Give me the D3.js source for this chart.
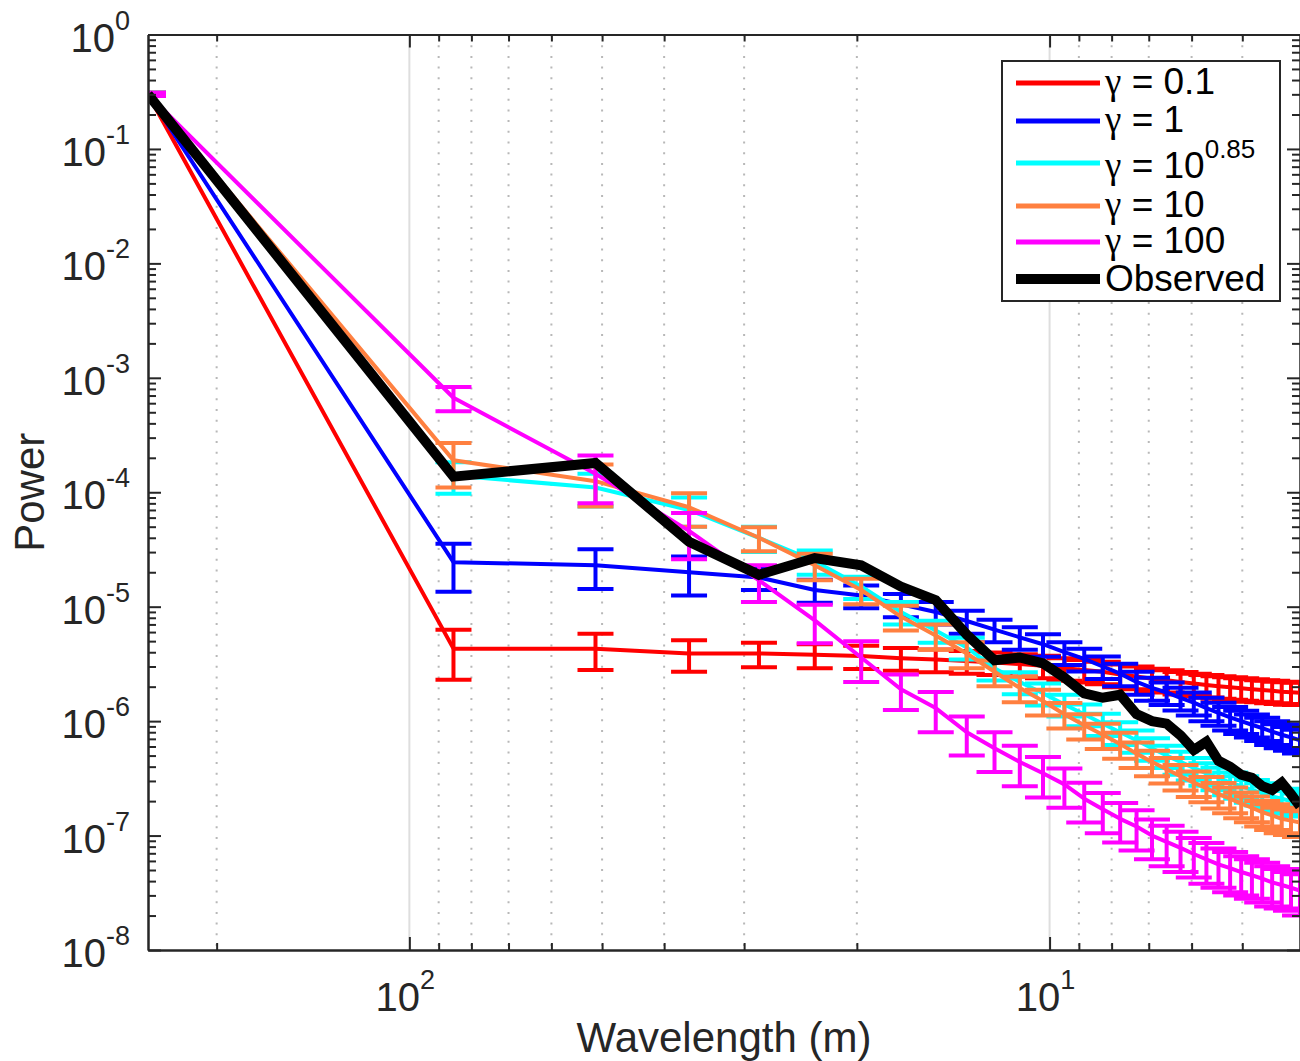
<!DOCTYPE html>
<html>
<head>
<meta charset="utf-8">
<script src="https://cdn.jsdelivr.net/npm/d3@7/dist/d3.min.js"></script>
<style>
  body { margin: 0; background: #fff; }
  svg { display: block; font-family: 'Liberation Sans', Arial, Helvetica, sans-serif; }
</style>
</head>
<body>
<svg id="chart" width="1300" height="1061"></svg>
<script>
// wavelengths (m) of the odd harmonics, left to right
const wavelength = [256, 85.33, 51.2, 36.57, 28.44, 23.27, 19.69, 17.07, 15.06, 13.47,
  12.19, 11.13, 10.24, 9.481, 8.828, 8.258, 7.758, 7.314, 6.919, 6.564, 6.244, 5.953,
  5.689, 5.447, 5.224, 5.02, 4.83, 4.655, 4.491, 4.339, 4.197, 4.063];

// gamma = 0.1
const powerG01 = [0.3, 4.3e-6, 4.3e-6, 3.9e-6, 3.9e-6, 3.8e-6, 3.7e-6, 3.55e-6, 3.45e-6,
  3.35e-6, 3.25e-6, 3.15e-6, 3.05e-6, 2.9e-6, 2.8e-6, 2.7e-6, 2.55e-6, 2.45e-6, 2.35e-6,
  2.28e-6, 2.2e-6, 2.13e-6, 2.07e-6, 2.02e-6, 1.98e-6, 1.94e-6, 1.9e-6, 1.87e-6, 1.84e-6,
  1.81e-6, 1.79e-6, 1.77e-6];
const errG01 = [0.01, 2.0e-6, 1.5e-6, 1.2e-6, 0.95e-6, 0.9e-6, 0.85e-6, 0.8e-6, 0.78e-6,
  0.75e-6, 0.72e-6, 0.7e-6, 0.68e-6, 0.65e-6, 0.62e-6, 0.6e-6, 0.57e-6, 0.55e-6, 0.52e-6,
  0.5e-6, 0.49e-6, 0.47e-6, 0.46e-6, 0.45e-6, 0.44e-6, 0.43e-6, 0.42e-6, 0.41e-6, 0.41e-6,
  0.4e-6, 0.4e-6, 0.39e-6];

// gamma = 1
const powerG1 = [0.3, 2.45e-5, 2.3e-5, 2.0e-5, 1.8e-5, 1.4e-5, 1.25e-5, 1.05e-5, 9.0e-6,
  7.5e-6, 6.3e-6, 5.4e-6, 4.7e-6, 4.0e-6, 3.5e-6, 3.0e-6, 2.6e-6, 2.2e-6, 1.95e-6, 1.78e-6,
  1.6e-6, 1.45e-6, 1.3e-6, 1.18e-6, 1.08e-6, 1.0e-6, 0.93e-6, 0.87e-6, 0.81e-6, 0.76e-6,
  0.72e-6, 0.68e-6];
const errG1 = [0.01, 1.1e-5, 0.87e-5, 0.75e-5, 0.4e-5, 0.32e-5, 0.28e-5, 0.24e-5, 0.2e-5,
  0.17e-5, 0.14e-5, 1.2e-6, 1.05e-6, 0.9e-6, 0.78e-6, 0.67e-6, 0.58e-6, 0.5e-6, 0.44e-6,
  0.4e-6, 0.36e-6, 0.33e-6, 0.3e-6, 0.27e-6, 0.25e-6, 0.23e-6, 0.21e-6, 0.2e-6, 0.19e-6,
  0.18e-6, 0.17e-6, 0.16e-6];

// gamma = 10^0.85
const powerG7 = [0.3, 1.4e-4, 1.1e-4, 7.0e-5, 4.0e-5, 2.5e-5, 1.5e-5, 9.0e-6, 6.2e-6,
  4.4e-6, 2.9e-6, 2.2e-6, 1.75e-6, 1.4e-6, 1.15e-6, 0.95e-6, 0.8e-6, 0.68e-6, 0.58e-6,
  0.5e-6, 0.44e-6, 0.39e-6, 0.35e-6, 0.32e-6, 0.29e-6, 0.27e-6, 0.25e-6, 0.235e-6, 0.22e-6,
  0.21e-6, 0.2e-6, 0.19e-6];
const errG7 = [0.01, 4.3e-5, 3.5e-5, 2.0e-5, 1.0e-5, 0.6e-5, 3.3e-6, 2.0e-6, 1.35e-6,
  0.95e-6, 0.63e-6, 0.48e-6, 0.38e-6, 0.3e-6, 0.25e-6, 0.21e-6, 0.18e-6, 0.15e-6, 0.13e-6,
  0.11e-6, 0.1e-6, 0.087e-6, 0.078e-6, 0.071e-6, 0.065e-6, 0.06e-6, 0.056e-6, 0.052e-6,
  0.049e-6, 0.047e-6, 0.045e-6, 0.043e-6];

// gamma = 10
const powerG10 = [0.3, 1.9e-4, 1.25e-4, 7.4e-5, 4.0e-5, 2.3e-5, 1.4e-5, 8.2e-6, 5.6e-6,
  3.9e-6, 2.7e-6, 1.95e-6, 1.5e-6, 1.15e-6, 0.92e-6, 0.76e-6, 0.63e-6, 0.52e-6, 0.44e-6,
  0.38e-6, 0.33e-6, 0.29e-6, 0.26e-6, 0.23e-6, 0.21e-6, 0.19e-6, 0.175e-6, 0.16e-6, 0.15e-6,
  0.14e-6, 0.135e-6, 0.13e-6];
const errG10 = [0.01, 8e-5, 5e-5, 2.4e-5, 0.95e-5, 0.6e-5, 3.5e-6, 2.0e-6, 1.4e-6, 1.0e-6,
  0.68e-6, 0.49e-6, 0.38e-6, 0.29e-6, 0.23e-6, 0.19e-6, 0.16e-6, 0.13e-6, 0.11e-6, 0.095e-6,
  0.083e-6, 0.073e-6, 0.065e-6, 0.058e-6, 0.053e-6, 0.048e-6, 0.044e-6, 0.04e-6, 0.038e-6,
  0.035e-6, 0.034e-6, 0.033e-6];

// gamma = 100
const powerG100 = [0.3, 6.7e-4, 1.45e-4, 4.6e-5, 1.7e-5, 7.6e-6, 3.6e-6, 1.9e-6, 1.3e-6,
  8.0e-7, 5.8e-7, 4.4e-7, 3.5e-7, 2.8e-7, 2.1e-7, 1.7e-7, 1.4e-7, 1.2e-7, 1.0e-7, 8.8e-8,
  7.8e-8, 6.9e-8, 6.2e-8, 5.6e-8, 5.2e-8, 4.8e-8, 4.5e-8, 4.2e-8, 3.9e-8, 3.7e-8, 3.5e-8,
  3.3e-8];
const errG100 = [0.01, 1.6e-4, 0.65e-4, 2.0e-5, 0.6e-5, 2.8e-6, 1.4e-6, 0.65e-6, 0.5e-6,
  0.3e-6, 0.22e-6, 0.17e-6, 0.135e-6, 0.105e-6, 0.08e-6, 0.065e-6, 0.053e-6, 0.046e-6,
  0.038e-6, 0.034e-6, 0.03e-6, 0.026e-6, 0.024e-6, 0.021e-6, 0.02e-6, 0.018e-6, 0.017e-6,
  0.016e-6, 0.015e-6, 0.014e-6, 0.013e-6, 0.013e-6];

// observed spectrum
const powerObserved = [0.3, 1.37e-4, 1.8e-4, 3.7e-5, 1.9e-5, 2.66e-5, 2.3e-5, 1.5e-5,
  1.14e-5, 5.7e-6, 3.4e-6, 3.6e-6, 3.2e-6, 2.4e-6, 1.75e-6, 1.6e-6, 1.7e-6, 1.15e-6, 1.0e-6,
  9.5e-7, 7.5e-7, 5.6e-7, 6.6e-7, 4.5e-7, 4.0e-7, 3.4e-7, 3.2e-7, 2.7e-7, 2.5e-7, 2.9e-7,
  2.3e-7, 1.8e-7];

const gammaLabels = ['0.1', '1', '10^0.85', '10', '100'];
const seriesColors = ['#ff0000', '#0000ff', '#00ffff', '#ff8040', '#ff00ff'];
const yTickExp = [0, -1, -2, -3, -4, -5, -6, -7, -8];
const xTickExp = [2, 1];

const series = [
  { label: gammaLabels[0], color: seriesColors[0], values: powerG01, err: errG01 },
  { label: gammaLabels[1], color: seriesColors[1], values: powerG1, err: errG1 },
  { label: gammaLabels[2], color: seriesColors[2], values: powerG7, err: errG7 },
  { label: gammaLabels[3], color: seriesColors[3], values: powerG10, err: errG10 },
  { label: gammaLabels[4], color: seriesColors[4], values: powerG100, err: errG100 },
];

// layout
const plotLeft = 148, plotRight = 1300, plotTop = 34.5, plotBottom = 950;
const axisColor = '#262626';

const svg = d3.select('#chart');

const x = d3.scaleLog()
  .domain([wavelength[0], wavelength[wavelength.length - 1]])
  .range([plotLeft, plotRight]);
const y = d3.scaleLog().domain([1e-8, 1]).range([plotBottom, plotTop]);

const isMajor = (v) => Math.abs(Math.log10(v) - Math.round(Math.log10(v))) < 1e-9;
const xTicks = x.ticks();
const xMajor = xTicks.filter(isMajor);
const xMinor = xTicks.filter((v) => !isMajor(v));
const yTicks = y.ticks();
const yMajor = yTicks.filter(isMajor);
const yMinor = yTicks.filter((v) => !isMajor(v));

svg.append('defs').append('clipPath').attr('id', 'plot-clip')
  .append('rect')
  .attr('x', plotLeft).attr('y', plotTop)
  .attr('width', plotRight - plotLeft).attr('height', plotBottom - plotTop);

// vertical grid only
const grid = svg.append('g');
grid.selectAll('line.major').data(xMajor).join('line')
  .attr('class', 'major')
  .attr('x1', (d) => x(d)).attr('x2', (d) => x(d))
  .attr('y1', plotTop).attr('y2', plotBottom)
  .attr('stroke', '#dedede').attr('stroke-width', 2);
grid.selectAll('line.minor').data(xMinor).join('line')
  .attr('class', 'minor')
  .attr('x1', (d) => x(d)).attr('x2', (d) => x(d))
  .attr('y1', plotTop).attr('y2', plotBottom)
  .attr('stroke', '#b8b8b8').attr('stroke-width', 2)
  .attr('stroke-dasharray', '2,8.7');

// data
const plot = svg.append('g').attr('clip-path', 'url(#plot-clip)');
const line = d3.line()
  .x((d, i) => x(wavelength[i]))
  .y((d) => y(d));

const capHalf = 18;

series.forEach(function (s) {
  const g = plot.append('g')
    .attr('stroke', s.color)
    .attr('stroke-width', 4)
    .attr('fill', 'none');

  g.append('path').datum(s.values).attr('d', line).attr('stroke-linejoin', 'round');

  const bars = g.selectAll('g.bar')
    .data(s.values.map((v, i) => ({ w: wavelength[i], hi: v + s.err[i], lo: Math.max(v - s.err[i], 1e-9) })))
    .join('g').attr('class', 'bar');
  bars.append('line')
    .attr('x1', (d) => x(d.w)).attr('x2', (d) => x(d.w))
    .attr('y1', (d) => y(d.hi)).attr('y2', (d) => y(d.lo));
  bars.append('line')
    .attr('x1', (d) => x(d.w) - capHalf).attr('x2', (d) => x(d.w) + capHalf)
    .attr('y1', (d) => y(d.hi)).attr('y2', (d) => y(d.hi));
  bars.append('line')
    .attr('x1', (d) => x(d.w) - capHalf).attr('x2', (d) => x(d.w) + capHalf)
    .attr('y1', (d) => y(d.lo)).attr('y2', (d) => y(d.lo));
});

plot.append('path').datum(powerObserved)
  .attr('d', line)
  .attr('fill', 'none')
  .attr('stroke', '#000')
  .attr('stroke-width', 10)
  .attr('stroke-linejoin', 'miter');

// axes: ticks point inwards on all four sides
function drawAxis(gen, transform, values, size) {
  const g = svg.append('g')
    .attr('transform', transform)
    .call(gen.tickValues(values).tickSize(-size).tickSizeOuter(0).tickFormat(''));
  g.selectAll('line').attr('stroke', axisColor).attr('stroke-width', 2);
  g.select('.domain').attr('stroke', axisColor).attr('stroke-width', 2);
  return g;
}

drawAxis(d3.axisBottom(x), `translate(0,${plotBottom})`, xMajor, 13);
drawAxis(d3.axisBottom(x), `translate(0,${plotBottom})`, xMinor, 7);
drawAxis(d3.axisTop(x), `translate(0,${plotTop})`, xMajor, 13);
drawAxis(d3.axisTop(x), `translate(0,${plotTop})`, xMinor, 7);
drawAxis(d3.axisLeft(y), `translate(${plotLeft},0)`, yMajor, 13);
drawAxis(d3.axisLeft(y), `translate(${plotLeft},0)`, yMinor, 8);
drawAxis(d3.axisRight(y), `translate(${plotRight},0)`, yMajor, 13);
drawAxis(d3.axisRight(y), `translate(${plotRight},0)`, yMinor, 8);

// tick labels as 10^n
function powerLabel(sel, exp) {
  sel.append('tspan').text('10');
  sel.append('tspan').attr('dy', -22).attr('font-size', 27).text(exp);
}

svg.append('g').selectAll('text').data(yTickExp).join('text')
  .attr('x', plotLeft - 18)
  .attr('y', (d) => y(Math.pow(10, d)) + 17)
  .attr('text-anchor', 'end')
  .attr('font-size', 40)
  .attr('fill', axisColor)
  .each(function (d) { powerLabel(d3.select(this), d); });

svg.append('g').selectAll('text').data(xTickExp).join('text')
  .attr('x', (d) => x(Math.pow(10, d)) - 4)
  .attr('y', 1011)
  .attr('text-anchor', 'middle')
  .attr('font-size', 40)
  .attr('fill', axisColor)
  .each(function (d) { powerLabel(d3.select(this), d); });

svg.append('text')
  .attr('x', (plotLeft + plotRight) / 2).attr('y', 1052)
  .attr('text-anchor', 'middle')
  .attr('font-size', 42)
  .attr('fill', axisColor)
  .text('Wavelength (m)');

svg.append('text')
  .attr('transform', `translate(44,${(plotTop + plotBottom) / 2}) rotate(-90)`)
  .attr('text-anchor', 'middle')
  .attr('font-size', 42)
  .attr('fill', axisColor)
  .text('Power');

// legend
const legend = svg.append('g');
legend.append('rect')
  .attr('x', 1002).attr('y', 61).attr('width', 278).attr('height', 240)
  .attr('fill', '#fff').attr('stroke', axisColor).attr('stroke-width', 2);

const legendRowY = [83, 121, 163, 206, 242, 279];
const legendItems = series.map((s) => ({ color: s.color, width: 5, label: s.label }))
  .concat([{ color: '#000', width: 10, label: null }]);

legendItems.forEach(function (item, i) {
  const ry = legendRowY[i];
  legend.append('line')
    .attr('x1', 1016).attr('x2', 1100)
    .attr('y1', ry).attr('y2', ry)
    .attr('stroke', item.color).attr('stroke-width', item.width);

  const t = legend.append('text')
    .attr('x', 1105)
    .attr('font-size', 37)
    .attr('fill', '#000');

  if (item.label === null) {
    t.attr('y', ry + 12).text('Observed');
    return;
  }
  const parts = item.label.split('^');
  t.attr('y', ry + (parts.length > 1 ? 15 : 11));
  t.append('tspan').attr('font-family', "'Liberation Serif', 'DejaVu Serif', serif").text('\u03b3');
  t.append('tspan').text(' = ' + parts[0]);
  if (parts.length > 1) {
    t.append('tspan').attr('dy', -20).attr('font-size', 26).text(parts[1]);
  }
});
</script>
</body>
</html>
